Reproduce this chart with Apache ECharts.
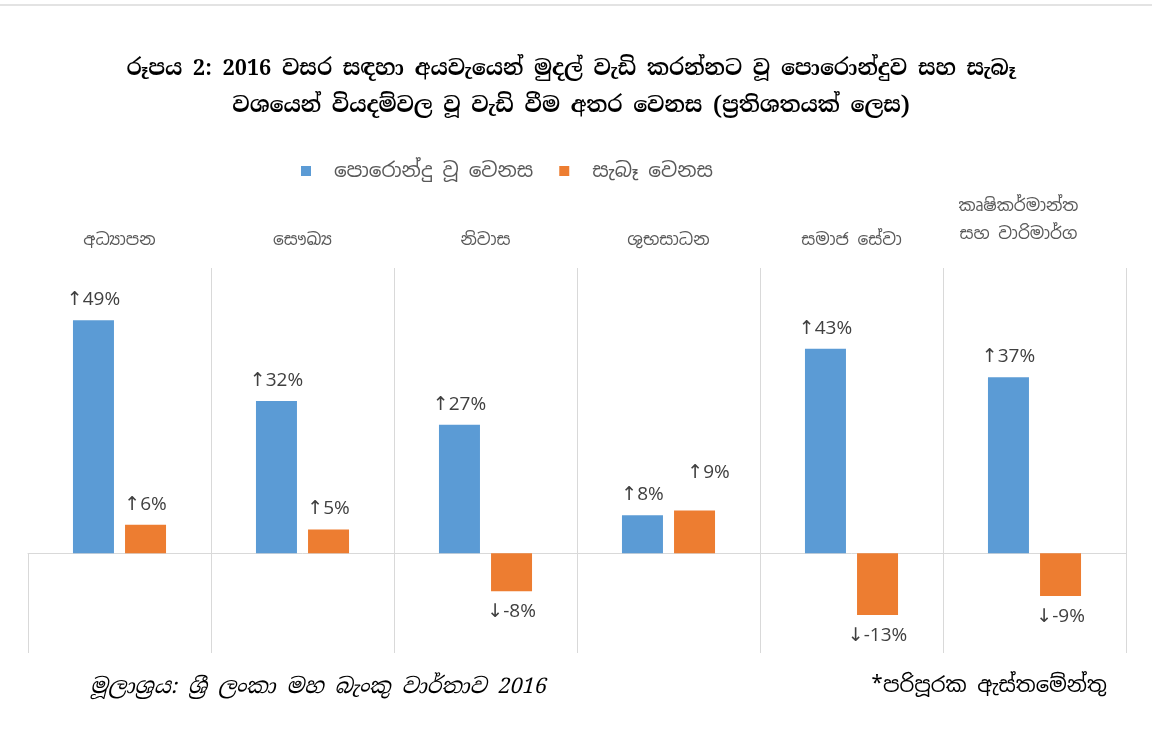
<!DOCTYPE html>
<html>
<head>
<meta charset="utf-8">
<script src="https://cdn.jsdelivr.net/npm/echarts@6/dist/echarts.min.js"></script>
<style>
  html, body { margin: 0; padding: 0; background: #fff; }
  #chart { width: 1152px; height: 747px; }
</style>
</head>
<body>
<div id="chart"></div>
<script>
  const categories = [
    "අධ්‍යාපන",
    "සෞඛ්‍ය",
    "නිවාස",
    "ශුභසාධන",
    "සමාජ සේවා",
    "කෘෂිකර්මාන්ත\nසහ වාරිමාර්ග",
  ];
  const promised = [49, 32, 27, 8, 43, 37];
  const actual = [6, 5, -8, 9, -13, -9];
  const seriesNames = ["පොරොන්දු වූ වෙනස", "සැබෑ වෙනස"];

  const titleText =
    "රූපය 2: 2016 වසර සඳහා අයවැයෙන් මුදල් වැඩි කරන්නට වූ පොරොන්දුව සහ සැබෑ\n" +
    "වශයෙන් වියදම්වල වූ වැඩි වීම අතර වෙනස (ප්‍රතිශතයක් ලෙස)";
  const sourceText = "මූලාශ්‍රය: ශ්‍රී ලංකා මහ බැංකු වාර්තාව 2016";
  const noteText = "*පරිපූරක ඇස්තමේන්තු";

  const sinhala = '"Noto Sans Sinhala", "Noto Serif Sinhala", "Noto Sans", sans-serif';
  const sinhalaSerif = '"Noto Serif Sinhala", "Noto Sans Sinhala", "DejaVu Serif", serif';
  const numFont = '"Open Sans", "Noto Sans", "DejaVu Sans", sans-serif';

  const chart = echarts.init(document.getElementById("chart"));

  // 9% label sits higher and to the right in the original, so it clears the 8% one
  const labelNudge = { "1-3": [14, -17] };

  const buildData = (values, s) =>
    values.map((v, i) => ({
      value: v,
      label: {
        position: v >= 0 ? "top" : "bottom",
        offset: labelNudge[s + "-" + i] || [0, 0],
      },
    }));

  const barLabel = {
    show: true,
    distance: 11,
    color: "#404040",
    fontSize: 19,
    fontFamily: numFont,
    formatter: (p) => (p.value >= 0 ? "↑" : "↓") + p.value + "%",
  };

  chart.setOption({
    animation: false,
    backgroundColor: "#fff",
    title: [
      {
        text: titleText,
        left: 566,
        top: 46,
        textAlign: "center",
        textStyle: {
          fontFamily: sinhalaSerif,
          fontSize: 21.5,
          fontWeight: "bold",
          color: "#000",
          lineHeight: 37,
        },
      },
      {
        text: sourceText,
        left: 85,
        top: 671,
        textStyle: {
          fontFamily: sinhalaSerif,
          fontSize: 21.5,
          fontStyle: "italic",
          fontWeight: "normal",
          color: "#000",
        },
      },
      {
        text: noteText,
        right: 40,
        top: 671,
        textStyle: {
          fontFamily: sinhala,
          fontSize: 21,
          fontWeight: "normal",
          color: "#000",
        },
      },
    ],
    legend: {
      left: 296,
      top: 156,
      icon: "rect",
      itemWidth: 10,
      itemHeight: 10,
      itemGap: 26,
      textStyle: { fontFamily: sinhala, fontSize: 20, color: "#595959", padding: [0, 0, 0, 18] },
      data: seriesNames,
    },
    grid: { left: 28, right: 26, top: 268, height: 385 },
    xAxis: [
      {
        type: "category",
        data: categories,
        axisLine: { onZero: true, lineStyle: { color: "#d9d9d9", width: 1 } },
        axisTick: { show: false },
        axisLabel: { show: false },
        splitLine: {
          show: true,
          interval: (i) => i > 0,
          lineStyle: { color: "#d9d9d9", width: 1 },
        },
      },
      {
        type: "category",
        position: "top",
        data: categories,
        axisLine: { show: false },
        axisTick: { show: false },
        axisLabel: {
          interval: 0,
          margin: 14,
          color: "#595959",
          fontSize: 17,
          fontFamily: sinhala,
          lineHeight: 28,
          formatter: (v, i) => (i === 5 ? "{hi|" + v + "}" : v),
          rich: { hi: { fontSize: 17, lineHeight: 28, padding: [0, 32, 12, 0], color: "#595959", fontFamily: sinhala } },
        },
      },
    ],
    yAxis: {
      type: "value",
      min: -21,
      max: 60,
      show: false,
      splitLine: { show: false },
    },
    series: [
      {
        name: seriesNames[0],
        type: "bar",
        xAxisIndex: 0,
        data: buildData(promised, 0),
        itemStyle: { color: "#5b9bd5" },
        barWidth: 41,
        barGap: "27%",
        label: barLabel,
      },
      {
        name: seriesNames[1],
        type: "bar",
        xAxisIndex: 0,
        data: buildData(actual, 1),
        itemStyle: { color: "#ed7d31" },
        barWidth: 41,
        label: barLabel,
      },
    ],
  });

  // left edge line only runs below zero, plus the thin frame line at the top
  const zero = chart.convertToPixel({ yAxisIndex: 0 }, 0);
  const bottom = chart.convertToPixel({ yAxisIndex: 0 }, -21);
  chart.setOption({
    graphic: [
      {
        type: "line",
        shape: { x1: 28.5, y1: zero, x2: 28.5, y2: bottom },
        style: { stroke: "#d9d9d9", lineWidth: 1 },
      },
      {
        type: "line",
        shape: { x1: 0, y1: 5, x2: 1152, y2: 5 },
        style: { stroke: "#e3e3e3", lineWidth: 2 },
      },
    ],
  });
</script>
</body>
</html>
